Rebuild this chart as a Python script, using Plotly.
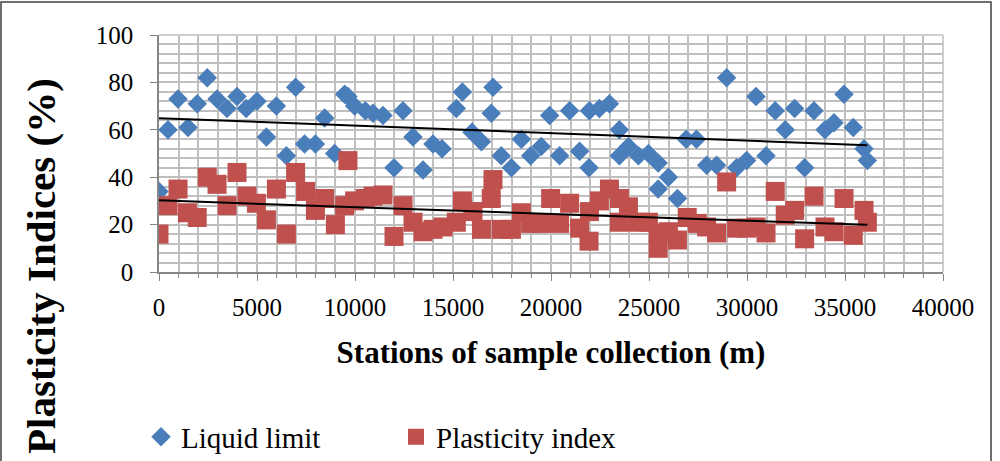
import numpy as np
import plotly.graph_objects as go

# Stations (m) and measured indices (%)
ll_station = [0, 460, 970, 1480, 1950, 2460, 2960, 3470, 3980, 4450, 5000, 5480, 5990,
              6500, 6970, 7430, 7980, 8450, 8960, 9470, 9640, 9980, 10530, 10920, 11430,
              11990, 12450, 12960, 13470, 13980, 14440, 15170, 15480, 15970, 16450, 16950,
              17040, 17460, 17980, 18490, 18960, 19500, 19930, 20440, 20950, 21460, 21940,
              21960, 22470, 22980, 23490, 23490, 23950, 24460, 24970, 25470, 25470, 25990,
              26450, 26900, 27420, 27940, 28450, 28960, 29470, 29980, 30460, 30970, 31440,
              31950, 32430, 32940, 33420, 33980, 34440, 34950, 35420, 35970, 36140]
liquid_limit = [34, 60, 73, 61, 71, 82, 73, 69, 74, 69, 72, 57, 70,
                49, 78, 54, 54, 65, 50, 75, 74, 70, 68, 67, 66,
                44, 68, 57, 43, 54, 52, 69, 76, 59, 55, 67,
                78, 49, 44, 56, 49, 53, 66, 49, 68, 51, 44,
                68, 69, 71, 60, 49, 53, 49, 50, 46, 35, 40,
                31, 56, 56, 45, 45, 82, 44, 47, 74, 49, 68,
                60, 69, 44, 68, 60, 63, 75, 61, 52, 47]

pi_station = [0, 460, 970, 1450, 1950, 2460, 2960, 3470, 3980, 4490, 4970, 5480, 5990,
              6500, 6970, 7480, 7980, 8450, 9000, 9470, 9640, 9980, 10530, 10920, 11430,
              11990, 12450, 12960, 13470, 13980, 14490, 15170, 15480, 16020, 16450, 16950,
              17040, 17460, 17980, 18490, 18960, 19500, 19980, 20440, 20950, 21460, 21940,
              21960, 22470, 22980, 23490, 23490, 23950, 24460, 24970, 25470, 25470, 25990,
              26450, 26950, 27460, 27940, 28450, 28960, 29470, 29980, 30460, 30970, 31440,
              31950, 32430, 32940, 33420, 33980, 34440, 34950, 35420, 35970, 36140]
plasticity_index = [16, 28, 35, 25, 23, 40, 37, 28, 42, 32, 29, 22, 35,
                    16, 42, 34, 26, 31, 20, 28, 47, 30, 31, 32, 32.5,
                    15, 28, 21, 17, 18, 19, 21, 30, 25.5, 18, 31,
                    39, 18, 18, 25, 20.5, 20.5, 31, 20.5, 29, 18.5, 13,
                    25.5, 30, 35, 31, 21, 27.5, 21, 21, 10, 16.5, 17,
                    13.5, 23, 20.5, 19, 16.5, 38, 18.5, 18.5, 19, 16.5, 34,
                    24, 26, 14, 32, 19, 17, 31, 15.5, 26, 21]

x_ticks = [0, 5000, 10000, 15000, 20000, 25000, 30000, 35000, 40000]
y_ticks = [0, 20, 40, 60, 80, 100]

BLUE = "#4a7ebb"
RED = "#c0504d"
SERIF = "Liberation Serif, Times New Roman, serif"
GRID = "#bfbfbf"
AXIS = "#868686"

fig = go.Figure()

fig.add_trace(go.Scatter(
    x=ll_station, y=liquid_limit, mode="markers", name="Liquid limit",
    marker=dict(symbol="diamond", size=15, color=BLUE, line=dict(width=0)),
))
fig.add_trace(go.Scatter(
    x=pi_station, y=plasticity_index, mode="markers", name="Plasticity index",
    marker=dict(symbol="square", size=19, color=RED, line=dict(width=0)),
))

# Linear trend lines for both series
for xs, ys in ((ll_station, liquid_limit), (pi_station, plasticity_index)):
    slope, icpt = np.polyfit(xs, ys, 1)
    xe = np.array([min(xs), max(xs)])
    fig.add_trace(go.Scatter(
        x=xe, y=icpt + slope * xe, mode="lines", showlegend=False,
        line=dict(color="black", width=2), hoverinfo="skip",
    ))

W, H = 1000, 461
L, R, T, B = 159, 57, 35, 189
pw, ph = W - L - R, H - T - B


def px_x(p):
    return (p - L) / pw


def px_y(p):
    return (H - B - p) / ph


fig.update_layout(
    width=W, height=H,
    margin=dict(l=L, r=R, t=T, b=B),
    paper_bgcolor="white", plot_bgcolor="white",
    font=dict(family=SERIF, color="black"),
    showlegend=True,
    legend=dict(
        orientation="h", xref="container", yref="container",
        x=141 / W, y=1 - 437 / H, xanchor="left", yanchor="middle",
        font=dict(family=SERIF, size=29, color="black"),
        entrywidth=210, entrywidthmode="pixels",
        bgcolor="rgba(0,0,0,0)", itemsizing="trace",
    ),
    xaxis=dict(
        range=[0, 40000], tickvals=x_ticks, ticktext=[str(v) for v in x_ticks],
        showgrid=True, gridcolor=GRID, gridwidth=1.5,
        minor=dict(dtick=1000, showgrid=True, gridcolor=GRID, gridwidth=1.5,
                   ticks="outside", ticklen=4, tickcolor=AXIS),
        ticks="outside", ticklen=7, tickcolor=AXIS,
        showline=True, linecolor=AXIS, linewidth=1.5,
        zeroline=False, ticklabelstandoff=5,
        tickfont=dict(family=SERIF, size=25, color="black"),
        title=dict(text="<b>Stations of sample collection (m)</b>",
                   font=dict(family=SERIF, size=31, color="black"), standoff=22),
    ),
    yaxis=dict(
        range=[0, 100], tickvals=y_ticks,
        showgrid=True, gridcolor=GRID, gridwidth=1.5,
        minor=dict(dtick=4, showgrid=True, gridcolor=GRID, gridwidth=1.5),
        ticks="outside", ticklen=7, tickcolor=AXIS,
        showline=True, linecolor=AXIS, linewidth=1.5,
        zeroline=False, ticklabelstandoff=12,
        tickfont=dict(family=SERIF, size=25, color="black"),
    ),
    annotations=[
        dict(text="<b>Plasticity Indices (%)</b>", textangle=-90,
             xref="paper", yref="paper", x=px_x(41), y=px_y(266),
             xanchor="center", yanchor="middle", showarrow=False,
             font=dict(family=SERIF, size=41, color="black")),
    ],
    shapes=[
        dict(type="rect", xref="paper", yref="paper",
             x0=px_x(1), x1=px_x(991), y0=px_y(470), y1=px_y(2),
             line=dict(color="#404040", width=1.5), fillcolor="rgba(0,0,0,0)",
             layer="below"),
        dict(type="line", xref="paper", yref="paper",
             x0=1, x1=1, y0=0, y1=1, line=dict(color=GRID, width=1.5)),
        dict(type="line", xref="paper", yref="paper",
             x0=0, x1=1, y0=1, y1=1, line=dict(color=GRID, width=1.5)),
    ],
)

fig.write_html("out.html")
